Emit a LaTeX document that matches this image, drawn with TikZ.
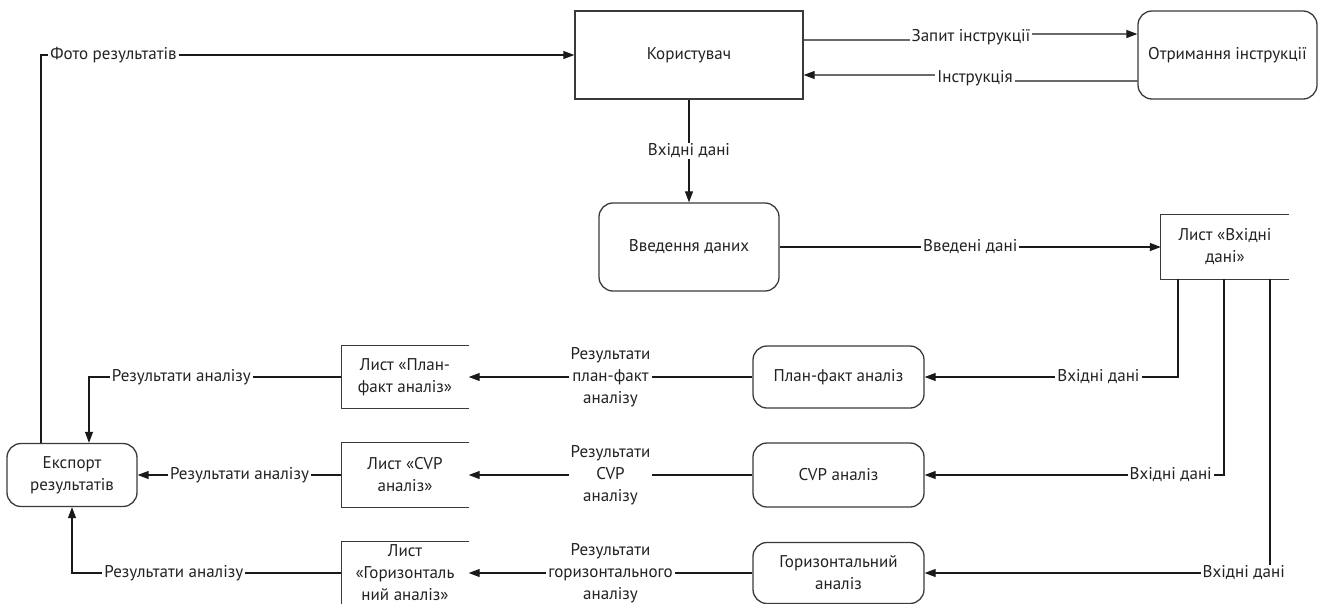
\documentclass[tikz,border=0pt]{standalone}
\usepackage{fontspec}
\setmainfont{PT Sans}
\usetikzlibrary{arrows.meta,calc}
\definecolor{bordercol}{HTML}{3A3A3A}
\definecolor{linecol}{HTML}{1A1A1A}
\definecolor{textcol}{HTML}{222222}
\begin{document}
\begin{tikzpicture}[x=1pt,y=-1pt,
  every node/.style={text=textcol, font=\fontsize{17}{22}\selectfont},
  box/.style={draw=bordercol, line width=1.3pt, inner sep=0pt, align=center},
  rbox/.style={box, rounded corners=14pt},
  sheet/.style={inner sep=0pt, align=center},
  sheetedge/.style={draw=bordercol, line width=1.3pt},
  lbl/.style={fill=white, inner xsep=2pt, inner ysep=1pt, align=center},
  conn/.style={draw=linecol, line width=1.1pt},
  arr/.style={conn, -{Triangle[length=11pt,width=8pt]}}
]
\useasboundingbox (0,0) rectangle (1325,603);

% nodes
\node[box, minimum width=228pt, minimum height=88pt] (user) at (689,55) {Користувач};
\node[rbox, minimum width=179pt, minimum height=88pt] (instr) at (1227.5,55) {Отримання інструкції};
\node[rbox, minimum width=180pt, minimum height=88pt] (input) at (689,247) {Введення даних};
\node[sheet, minimum width=128pt, minimum height=64pt] (listIn) at (1225,247) {Лист «Вхідні\\дані»};
\node[rbox, minimum width=171pt, minimum height=62pt] (pf) at (838.5,377) {План-факт аналіз};
\node[rbox, minimum width=171pt, minimum height=64pt] (cvp) at (838.5,475) {CVP аналіз};
\node[rbox, minimum width=171pt, minimum height=61pt] (hor) at (838.5,573) {Горизонтальний\\аналіз};
\node[sheet, minimum width=127pt, minimum height=62pt] (listPF) at (405,377) {Лист «План-\\факт аналіз»};
\node[sheet, minimum width=127pt, minimum height=64pt] (listCVP) at (405,475) {Лист «CVP\\аналіз»};
\node[sheet, minimum width=127pt, minimum height=62pt] (listHor) at (405,573) {Лист\\«Горизонталь\\ний аналіз»};
\node[rbox, minimum width=130pt, minimum height=63pt] (exp) at (72,475) {Експорт\\результатів};

% open-sided sheet boxes
\foreach \s in {listIn,listPF,listCVP,listHor}{
  \draw[sheetedge] (\s.north east) -- (\s.north west) -- (\s.south west) -- (\s.south east);
}

% connectors
\draw[arr] ([xshift=-31pt]exp.north) |- node[lbl,pos=0.568]{Фото результатів} (user.west);
\draw[arr] ($(user.east)+(0,-15)$) -- ($(user.east)+(168,-15)$) -- node[lbl]{Запит інструкції} ($(instr.west)+(-167,-21)$) -- ($(instr.west)+(0,-21)$);
\draw[arr] ($(instr.west)+(0,26)$) -- ($(instr.west)+(-163,26)$) -- node[lbl]{Інструкція} ($(user.east)+(172,20)$) -- ($(user.east)+(0,20)$);
\draw[arr] (user.south) -- node[lbl]{Вхідні дані} (input.north);
\draw[arr] (input.east) -- node[lbl]{Введені дані} (listIn.west);

\draw[arr] ([xshift=-47pt]listIn.south) |- node[lbl,pos=0.657]{Вхідні дані} (pf.east);
\draw[arr] ([xshift=-1pt]listIn.south) |- node[lbl,pos=0.589]{Вхідні дані} (cvp.east);
\draw[arr] ([xshift=45pt]listIn.south) |- node[lbl,pos=0.538]{Вхідні дані} (hor.east);

\draw[arr] (pf.west) -- node[lbl]{Результати\\план-факт\\аналізу} (listPF.east);
\draw[arr] (cvp.west) -- node[lbl]{Результати\\CVP\\аналізу} (listCVP.east);
\draw[arr] (hor.west) -- node[lbl]{Результати\\горизонтального\\аналізу} (listHor.east);

\draw[arr] (listPF.west) -| node[lbl,pos=0.317]{Результати аналізу} ([xshift=17pt]exp.north);
\draw[arr] (listCVP.west) -- node[lbl]{Результати аналізу} (exp.east);
\draw[arr] (listHor.west) -| node[lbl,pos=0.311]{Результати аналізу} (exp.south);
\end{tikzpicture}
\end{document}
